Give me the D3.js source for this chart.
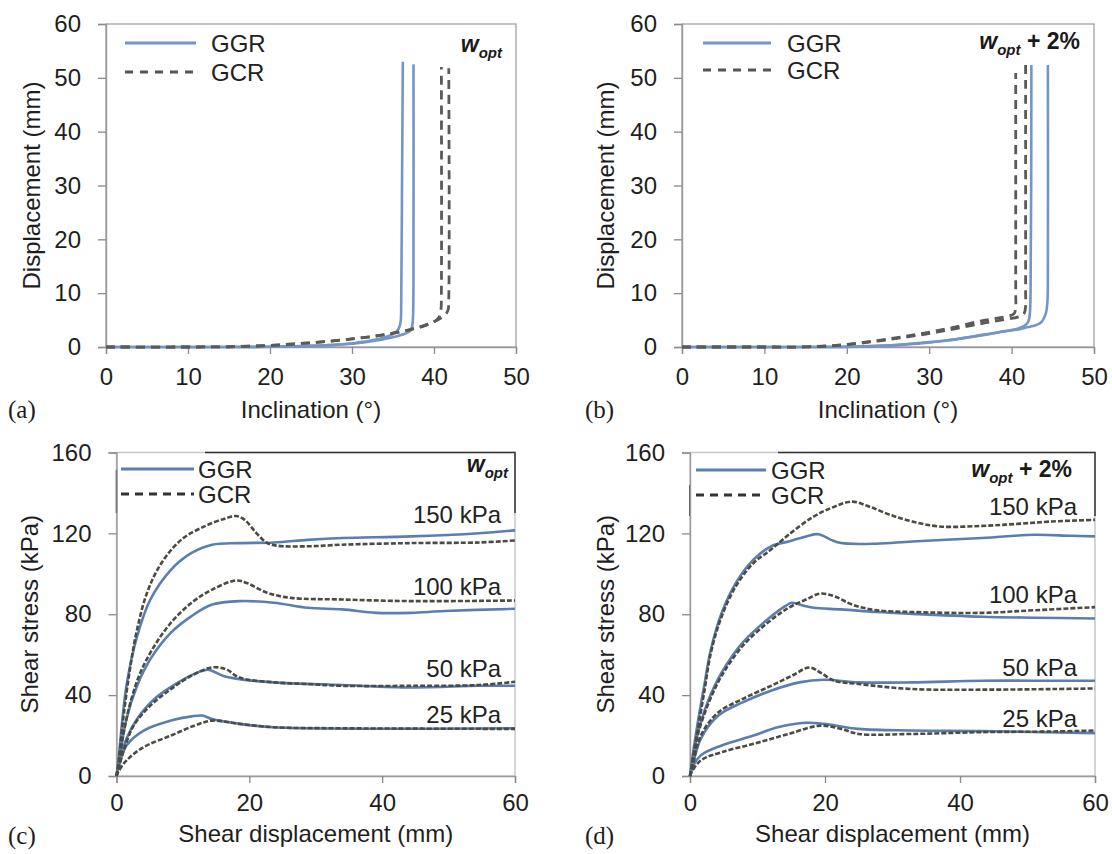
<!DOCTYPE html>
<html><head><meta charset="utf-8">
<script src="https://cdn.jsdelivr.net/npm/d3@7"></script>
<style>body{margin:0;background:#fff}</style>
</head><body>
<svg id="chart" width="1112" height="854"></svg>
<script>
// ---------- tick values ----------
const inclTicks = [0, 10, 20, 30, 40, 50];
const dispTicks = [0, 10, 20, 30, 40, 50, 60];
const shearXTicks = [0, 20, 40, 60];
const shearYTicks = [0, 40, 80, 120, 160];
const seriesNames = ["GGR", "GCR"];
const pressureLabels = ["150 kPa", "100 kPa", "50 kPa", "25 kPa"];

// ---------- panel (a): w_opt, inclination vs displacement ----------
const aGGR1 = [[0,0],[15,0],[20,0.05],[25,0.2],[28,0.4],[30,0.7],[32,1.1],[34,1.8],[35,2.4],[35.5,3.0],[35.8,3.8],[35.95,5],[36.0,8],[36.1,30],[36.2,53]];
const aGGR2 = [[0,0],[15,0],[20,0.05],[25,0.2],[30,0.6],[33,1.2],[35,1.8],[36.5,2.5],[37.1,3.0],[37.35,4],[37.45,6],[37.5,20],[37.5,52.5]];
const aGCR1 = [[0,0],[10,0],[15,0.05],[20,0.3],[25,0.8],[30,1.5],[34,2.3],[37,3.2],[39,4.0],[40.0,4.7],[40.6,5.5],[40.85,7],[40.9,10],[40.9,52]];
const aGCR2 = [[0,0],[10,0],[15,0.05],[20,0.3],[25,0.8],[30,1.5],[34,2.3],[37,3.2],[39,4.1],[40.3,4.9],[41.3,5.9],[41.7,6.8],[41.8,9],[41.8,51.8]];

// ---------- panel (b): w_opt + 2% ----------
const bGGR1 = [[0,0],[15,0],[20,0.05],[23.7,0.2],[27,0.5],[30,0.9],[33,1.4],[36.5,2.2],[39,2.9],[40.7,3.4],[41.6,4.0],[42.0,4.6],[42.2,6],[42.3,10],[42.4,52.4]];
const bGGR2 = [[0,0],[15,0],[20,0.03],[25.8,0.3],[29,0.7],[32.2,1.2],[35.5,2.0],[38.6,2.8],[41,3.3],[42,3.7],[43,4.1],[43.6,4.6],[44.0,5.6],[44.2,6.5],[44.35,8.5],[44.4,12],[44.4,52.4]];
const bGCR1 = [[0,0],[10,0],[15,0.02],[19.4,0.4],[23.7,1.2],[27.9,2.2],[32.2,3.4],[36.5,4.9],[39.5,5.7],[40.3,6.2],[40.5,7.5],[40.5,10],[40.5,50.9]];
const bGCR2 = [[0,0],[10,0],[15,0.02],[19.4,0.35],[23.7,1.1],[27.9,2.0],[32.2,3.1],[36.5,4.4],[39.5,5.2],[40.8,5.6],[41.5,6.2],[41.7,7.5],[41.7,10],[41.7,52.4]];

// ---------- panel (c): w_opt, shear stress vs shear displacement ----------
const cGCR150 = [[0,0],[0.26,5.2],[1,28],[2.1,54.5],[3.1,72.5],[4.6,90.6],[6.7,105],[9.8,117],[13.4,123.7],[16.5,127.5],[18,128.6],[19.3,126.7],[21.1,120],[22.7,115.2],[24.2,113.9],[28.8,113.6],[34,114.4],[44.3,115.2],[54.6,115.5],[60,116.5]];
const cGGR150 = [[0,0],[0.26,6.9],[1.5,44.6],[3.1,69],[5.1,87.3],[8.2,102],[11.3,110.3],[14.4,114.4],[18.5,115.2],[23.7,115.5],[28.8,116.8],[34,117.7],[44.3,118.5],[54.6,120.1],[60,121.5]];
const cGCR100 = [[0,0],[0.26,3.6],[1,20],[2.1,36.4],[3.6,51.2],[5.7,64.3],[8.2,75.8],[11.3,85.7],[14.4,92.2],[18,96.7],[19.6,95.5],[22.7,90.6],[26.3,88.1],[34,87.3],[44.3,86.5],[60,86.8]];
const cGGR100 = [[0,0],[0.26,5.2],[1.5,28.2],[3.1,44.6],[5.1,57.8],[8.2,70.9],[11.3,79.1],[14.4,84.8],[18.5,86.5],[23.7,85.7],[28.8,83.2],[34,82.4],[39.1,80.7],[44.3,80.7],[49.4,81.6],[60,82.7]];
const cGCR50 = [[0,0],[0.26,2.8],[1,11.8],[2.6,25],[5.1,34.8],[8.2,43],[11.3,49.6],[14.4,53.7],[16.5,52.8],[18.5,48.7],[23.7,46.3],[28.8,45.5],[34,44.6],[44.3,44.6],[54.6,45],[60,46.6]];
const cGGR50 = [[0,0],[0.26,4.4],[1.5,18.4],[3.1,28.2],[5.7,38.1],[9.3,46.3],[12.4,51.5],[13.9,52.5],[16,49.6],[18.5,47.9],[23.7,46.3],[34,45],[44.3,43.8],[54.6,44.6],[60,44.6]];
const cGCR25 = [[0,0],[0.26,2],[1.5,7.7],[4.1,14.3],[8.2,20],[11.8,25],[14.4,27.4],[18.5,25.8],[23.7,24.1],[34,23.6],[60,23.3]];
const cGGR25 = [[0,0],[0.26,3.6],[1.5,15.1],[4.1,22.5],[8.2,27.4],[11.3,29.5],[12.9,29.9],[14.4,28.2],[18.5,25.8],[23.7,24.1],[60,23.6]];

// ---------- panel (d): w_opt + 2% ----------
const dGCR150 = [[0,0],[0.26,5.2],[1,20],[2.1,41.4],[3.1,61],[4.7,79],[6.8,93.9],[9.4,105.3],[12,112],[14.6,119.3],[18.3,128.3],[21.4,133.2],[24,135.7],[26.6,133.2],[29.7,129.1],[32.9,125.9],[37,123.4],[43.3,123.7],[48.5,124.7],[53.7,125.9],[60,126.7]];
const dGGR150 = [[0,0],[0.26,6.9],[1,23.3],[2.1,44.6],[3.1,62.7],[4.7,80.7],[6.8,95.5],[9.4,107],[12,113.6],[14.6,116],[17.2,118.5],[19,119.6],[20.9,116.8],[22.4,115.2],[27.6,114.9],[32.9,116],[43.3,117.7],[51.1,119.3],[56.3,118.8],[60,118.5]];
const dGCR100 = [[0,0],[0.26,3.6],[1,18.4],[2.6,34.8],[4.7,49.6],[7.8,64.3],[11.5,75.8],[14.6,83.2],[17.2,87.3],[19.3,90.2],[21.4,88.9],[24,84.8],[27.6,82],[32.9,81.1],[43.3,80.7],[51.1,82],[60,83.5]];
const dGGR100 = [[0,0],[0.26,5.2],[1,19],[2.6,36.4],[4.7,51.2],[7.8,66],[11.5,77.5],[14.1,84],[15.1,85.7],[16.7,84.3],[18.3,83.2],[22.4,82.4],[27.6,81.1],[32.9,80.2],[43.3,78.8],[51.1,78.3],[60,77.9]];
const dGCR50 = [[0,0],[0.26,2.8],[1.6,20],[4.2,31.5],[7.8,38.1],[12,44.6],[15.1,49.6],[17.7,53.7],[19.3,51.2],[21.4,47.1],[25,45.5],[32.9,43],[43.3,42.7],[53.7,43],[60,43.3]];
const dGGR50 = [[0,0],[0.26,3.6],[1.6,18.4],[4.2,29.9],[7.8,36.4],[12,42.2],[16.2,46.3],[19.8,47.6],[25,46.3],[32.9,46.3],[43.3,47.1],[53.7,47.1],[60,47.1]];
const dGCR25 = [[0,0],[0.26,2],[1.6,7.7],[4.7,11.8],[9.4,15.9],[14.6,20.8],[19.3,24.9],[22.4,23.3],[25,20.8],[32.9,20.8],[43.3,21.7],[53.7,22],[60,22.5]];
const dGGR25 = [[0,0],[0.26,3.6],[1.6,10.2],[4.7,15.1],[9.4,20],[13,24.1],[17.2,26.3],[19.8,25.8],[25,23.3],[32.9,22.5],[43.3,22.2],[60,21.2]];

// ---------- styling / layout ----------
const FONT = "'Liberation Sans', Arial, sans-serif";
const SERIF = "'Liberation Serif', 'Times New Roman', serif";
const BLUE_AB = "#7396c6", GRAY_AB = "#5a5a56";
const BLUE_CD = "#5a7eb0", GRAY_CD = "#4b4b42";

const svg = d3.select("#chart");

const panels = [
  { id:"a", x0:106, x1:516, yTop:24, yBot:347, xDom:[0,50], yDom:[0,60], xt:inclTicks, yt:dispTicks,
    xTitle:"Inclination (°)", yTitle:"Displacement (mm)", yTitleX:40, xTitleY:418, xPad:14,
    label:"(a)", labelX:8, labelY:418, shear:false,
    ggr:[aGGR1,aGGR2], gcr:[aGCR1,aGCR2],
    leg:{lx1:125, lx2:196, ly1:43, ly2:72, tx:211, dash:"8,7"},
    cond:{x:502, y:52, plus:false} },
  { id:"b", x0:682, x1:1094, yTop:24, yBot:347, xDom:[0,50], yDom:[0,60], xt:inclTicks, yt:dispTicks,
    xTitle:"Inclination (°)", yTitle:"Displacement (mm)", yTitleX:614, xTitleY:418, xPad:14,
    label:"(b)", labelX:585, labelY:418, shear:false,
    ggr:[bGGR1,bGGR2], gcr:[bGCR1,bGCR2],
    leg:{lx1:703, lx2:771, ly1:43, ly2:70, tx:787, dash:"8,7"},
    cond:{x:1080, y:49, plus:true} },
  { id:"c", x0:116.5, x1:515, yTop:452.5, yBot:776, xDom:[0,60], yDom:[0,160], xt:shearXTicks, yt:shearYTicks,
    xTitle:"Shear displacement (mm)", yTitle:"Shear stress (kPa)", yTitleX:38, xTitleY:842, xPad:11,
    label:"(c)", labelX:8, labelY:844, shear:true,
    ggr:[cGGR150,cGGR100,cGGR50,cGGR25], gcr:[cGCR150,cGCR100,cGCR50,cGCR25],
    leg:{lx1:121, lx2:194, ly1:469, ly2:494, tx:198, dash:"8,6"},
    cond:{x:508, y:472, plus:false},
    pLabX:501, pLabY:[523,595,677,723],
    darkBox:{left:470, topFrom:205, bottom:513} },
  { id:"d", x0:690, x1:1095, yTop:452.5, yBot:776, xDom:[0,60], yDom:[0,160], xt:shearXTicks, yt:shearYTicks,
    xTitle:"Shear displacement (mm)", yTitle:"Shear stress (kPa)", yTitleX:614, xTitleY:842, xPad:11,
    label:"(d)", labelX:585, labelY:844, shear:true,
    ggr:[dGGR150,dGGR100,dGGR50,dGGR25], gcr:[dGCR150,dGCR100,dGCR50,dGCR25],
    leg:{lx1:696, lx2:766, ly1:470, ly2:495, tx:771, dash:"8,6"},
    cond:{x:1072, y:477, plus:true},
    pLabX:1077, pLabY:[515,603,676,727],
    darkBox:{left:485, topFrom:778, bottom:516} }
];

panels.forEach(p => {
  const x = d3.scaleLinear().domain(p.xDom).range([p.x0, p.x1]);
  const y = d3.scaleLinear().domain(p.yDom).range([p.yBot, p.yTop]);
  const g = svg.append("g");

  // frame
  g.append("rect").attr("x", p.x0).attr("y", p.yTop)
    .attr("width", p.x1 - p.x0).attr("height", p.yBot - p.yTop)
    .attr("fill", "none").attr("stroke", p.shear ? "#c4c4c4" : "#a8a8a8").attr("stroke-width", 1.4);

  if (p.darkBox) {
    const db = p.darkBox;
    g.append("path")
      .attr("d", `M${p.x0},${db.bottom}V${db.left}`)
      .attr("stroke", "#333").attr("stroke-width", 1.5).attr("fill", "none");
    g.append("path")
      .attr("d", `M${db.topFrom},${p.yTop}H${p.x1}V${db.bottom}`)
      .attr("stroke", "#333").attr("stroke-width", 1.5).attr("fill", "none");
  }

  // axes
  const xa = g.append("g").attr("transform", `translate(0,${p.yBot})`)
    .call(d3.axisBottom(x).tickValues(p.xt).tickSize(7).tickPadding(p.xPad).tickFormat(d3.format("d")));
  const ya = g.append("g").attr("transform", `translate(${p.x0},0)`)
    .call(d3.axisLeft(y).tickValues(p.yt).tickSize(8).tickPadding(17).tickFormat(d3.format("d")));
  [xa, ya].forEach(a => {
    a.select(".domain").attr("stroke", "#9a9a9a").attr("stroke-width", 1.4);
    a.selectAll(".tick line").attr("stroke", "#8a8a8a").attr("stroke-width", 1.3);
    a.selectAll(".tick text").attr("font-family", FONT).attr("font-size", 24).attr("fill", "#1e1e1e");
  });

  // curves
  const line = d3.line().x(d => x(d[0])).y(d => y(d[1])).curve(d3.curveCatmullRom.alpha(0.5));
  const blue = p.shear ? BLUE_CD : BLUE_AB, gray = p.shear ? GRAY_CD : GRAY_AB;
  p.ggr.forEach(s => g.append("path").attr("d", line(s)).attr("fill", "none")
    .attr("stroke", blue).attr("stroke-width", 2.6));
  p.gcr.forEach(s => g.append("path").attr("d", line(s)).attr("fill", "none")
    .attr("stroke", gray).attr("stroke-width", p.shear ? 2.6 : 2.8)
    .attr("stroke-dasharray", p.shear ? "5,2" : "9,6"));

  // legend
  const L = p.leg;
  g.append("line").attr("x1", L.lx1).attr("x2", L.lx2).attr("y1", L.ly1).attr("y2", L.ly1)
    .attr("stroke", blue).attr("stroke-width", 3);
  g.append("line").attr("x1", L.lx1).attr("x2", L.lx2).attr("y1", L.ly2).attr("y2", L.ly2)
    .attr("stroke", p.shear ? "#333" : "#555").attr("stroke-width", 3).attr("stroke-dasharray", L.dash);
  [L.ly1, L.ly2].forEach((ly, i) => {
    g.append("text").attr("x", L.tx).attr("y", ly + 9).text(seriesNames[i])
      .attr("font-family", FONT).attr("font-size", 24).attr("fill", "#222");
  });

  // condition label w_opt (+ 2%)
  const t = g.append("text").attr("x", p.cond.x).attr("y", p.cond.y).attr("text-anchor", "end")
    .attr("font-family", FONT).attr("font-weight", "bold").attr("fill", "#1a1a1a");
  t.append("tspan").attr("font-style", "italic").attr("font-size", 23).text("w");
  t.append("tspan").attr("font-style", "italic").attr("font-size", 15).attr("dy", 6).text("opt");
  if (p.cond.plus) t.append("tspan").attr("font-size", 23).attr("dy", -6).text(" + 2%");

  // pressure labels
  if (p.shear) {
    pressureLabels.forEach((lab, i) => {
      g.append("text").attr("x", p.pLabX).attr("y", p.pLabY[i]).attr("text-anchor", "end")
        .attr("font-family", FONT).attr("font-size", 24).attr("fill", "#222").text(lab);
    });
  }

  // axis titles
  g.append("text").attr("x", (p.x0 + p.x1) / 2).attr("y", p.xTitleY).attr("text-anchor", "middle")
    .attr("font-family", FONT).attr("font-size", 24).attr("fill", "#1e1e1e").text(p.xTitle);
  g.append("text").attr("transform", `translate(${p.yTitleX},${(p.yTop + p.yBot) / 2}) rotate(-90)`)
    .attr("text-anchor", "middle").attr("font-family", FONT).attr("font-size", 24).attr("fill", "#1e1e1e")
    .text(p.yTitle);

  // panel label
  g.append("text").attr("x", p.labelX).attr("y", p.labelY).attr("font-family", SERIF)
    .attr("font-size", 25).attr("fill", "#1e1e1e").text(p.label);
});
</script>
</body></html>
